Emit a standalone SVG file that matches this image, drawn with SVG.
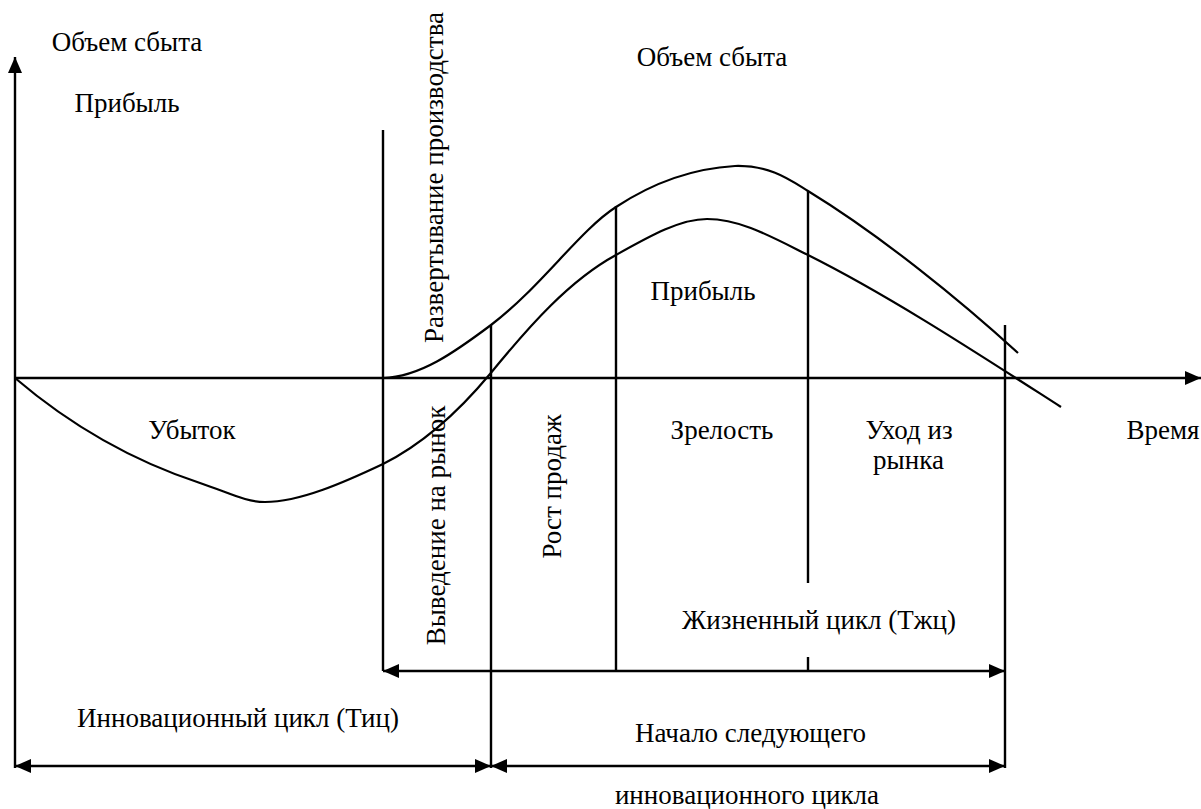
<svg xmlns="http://www.w3.org/2000/svg" width="1201" height="809" viewBox="0 0 1201 809">
<style>
.ln{stroke:#000;stroke-width:2.4;fill:none}
.cv{stroke:#000;stroke-width:2.2;fill:none}
.t{font-family:"Liberation Serif","Times New Roman",serif;font-size:27px;fill:#000;text-anchor:middle}
</style>
<defs>
<marker id="ah" viewBox="0 0 16 14" refX="16" refY="7" markerWidth="16" markerHeight="14" markerUnits="userSpaceOnUse" orient="auto-start-reverse">
<path d="M0,0 L16,7 L0,14 Z" fill="#000"/>
</marker>
</defs>
<rect width="1201" height="809" fill="#fff"/>
<g id="axes">
<line class="ln" x1="15" y1="768" x2="15" y2="57" marker-end="url(#ah)"/>
<line class="ln" x1="15" y1="378" x2="1201" y2="378" marker-end="url(#ah)"/>
</g>
<g id="stage-lines">
<line class="ln" x1="383" y1="130" x2="383" y2="671"/>
<line class="ln" x1="491" y1="325" x2="491" y2="768"/>
<line class="ln" x1="616" y1="206" x2="616" y2="671"/>
<line class="ln" x1="808" y1="191" x2="808" y2="583"/>
<line class="ln" x1="808" y1="657" x2="808" y2="671"/>
<line class="ln" x1="1005" y1="325" x2="1005" y2="768"/>
</g>
<g id="curves">
<path id="sales" class="cv" d="M383,378 C420,377 455,352 491,325 C540,288 580,230 616,207 C660,178 700,168 735,166 C770,165 790,180 808,191 C880,235 960,300 1018,353"/>
<path id="profit" class="cv" d="M15,378 C70,425 130,460 200,483 C230,493 245,502 265,502 C300,502 345,482 383,464 C425,443 460,410 490,374 C530,325 570,280 616,255 C650,236 680,219 707,219 C740,219 770,236 808,255 C890,296 980,355 1061,407"/>
</g>
<g id="connectors">
<line class="ln" x1="383" y1="671" x2="1005" y2="671" marker-start="url(#ah)" marker-end="url(#ah)"/>
<line class="ln" x1="15" y1="766" x2="491" y2="766" marker-start="url(#ah)" marker-end="url(#ah)"/>
<line class="ln" x1="491" y1="766" x2="1005" y2="766" marker-start="url(#ah)" marker-end="url(#ah)"/>
</g>
<g id="labels">
<text class="t" x="127" y="51">Объем сбыта</text>
<text class="t" x="127" y="112">Прибыль</text>
<text class="t" x="712" y="66">Объем сбыта</text>
<text class="t" transform="translate(443,177.5) rotate(-90)">Развертывание производства</text>
<text class="t" x="703" y="300">Прибыль</text>
<text class="t" x="192" y="439">Убыток</text>
<text class="t" transform="translate(445,525.5) rotate(-90)">Выведение на рынок</text>
<text class="t" transform="translate(561,486.5) rotate(-90)">Рост продаж</text>
<text class="t" x="722" y="439">Зрелость</text>
<text class="t" x="909" y="439">Уход из</text>
<text class="t" x="908.5" y="469">рынка</text>
<text class="t" x="1163" y="439">Время</text>
<text class="t" x="819" y="629">Жизненный цикл (Тжц)</text>
<text class="t" x="238" y="727">Инновационный цикл (Тиц)</text>
<text class="t" x="750.5" y="742">Начало следующего</text>
<text class="t" x="747" y="804">инновационного цикла</text>
</g>
</svg>
